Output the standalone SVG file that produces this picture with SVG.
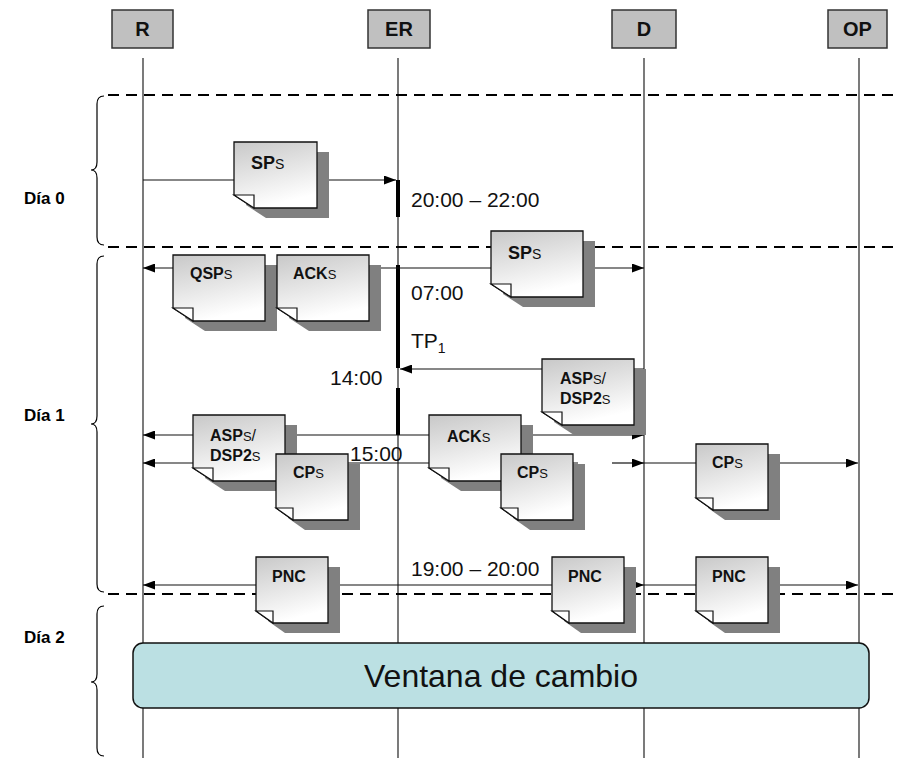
<svg xmlns="http://www.w3.org/2000/svg" xmlns:xlink="http://www.w3.org/1999/xlink" width="899" height="758" viewBox="0 0 899 758">
<style>
  .hdr { fill:#c0c0c0; stroke:#333; stroke-width:1.5; }
  .hdrt { font-family:"Liberation Sans",Arial,sans-serif; font-weight:bold; font-size:20px; text-anchor:middle; fill:#111; }
  .life { stroke:#222; stroke-width:1.2; fill:none; }
  .dash { stroke:#000; stroke-width:2.2; stroke-dasharray:11 7; fill:none; }
  .bar { stroke:#000; stroke-width:4; fill:none; }
  .msg { stroke:#111; stroke-width:1.2; fill:none; }
  .brace { stroke:#000; stroke-width:1.2; fill:none; }
  .day { font-family:"Liberation Sans",Arial,sans-serif; font-weight:bold; font-size:17px; fill:#000; }
  .time { font-family:"Liberation Sans",Arial,sans-serif; font-size:21px; fill:#111; }
  .nt { font-family:"Liberation Sans",Arial,sans-serif; font-weight:bold; font-size:16px; fill:#111; }
  .sm { font-weight:normal; font-size:13px; }
  .big { font-size:18px; }
  .bigsm { font-weight:normal; font-size:14px; }
  .shadow { fill:#808080; }
  .body { fill:url(#g); stroke:#111; stroke-width:1.3; }
  .fold { fill:#fff; stroke:#111; stroke-width:1.2; }
</style>
<defs>
  <linearGradient id="g" x1="0" y1="0" x2="0.3" y2="1">
    <stop offset="0" stop-color="#c8c8c8"/>
    <stop offset="1" stop-color="#ffffff"/>
  </linearGradient>
  <marker id="ah" viewBox="0 0 12 9" refX="12" refY="4.5" markerWidth="12" markerHeight="9" markerUnits="userSpaceOnUse" orient="auto-start-reverse">
    <path d="M0,0 L12,4.5 L0,9 Z" fill="#000"/>
  </marker>
  <g id="n92">
    <path class="shadow" d="M12,10 H104 V76 H32 L12,63 Z"/>
    <path class="body" d="M0,0 H92 V66 H20 L0,53 Z"/>
    <path class="fold" d="M0,53 H20 V66 Z"/>
  </g>
  <g id="n83">
    <path class="shadow" d="M12,10 H95 V76 H32 L12,63 Z"/>
    <path class="body" d="M0,0 H83 V66 H20 L0,53 Z"/>
    <path class="fold" d="M0,53 H20 V66 Z"/>
  </g>
  <g id="n72">
    <path class="shadow" d="M12,10 H84 V76 H29 L12,64 Z"/>
    <path class="body" d="M0,0 H72 V66 H17 L0,54 Z"/>
    <path class="fold" d="M0,54 H17 V66 Z"/>
  </g>
</defs>
<rect width="899" height="758" fill="#fff"/>

<g id="lifelines">
  <path class="life" d="M143,58 V758"/>
  <path class="life" d="M398,58 V758"/>
  <path class="life" d="M644,58 V758"/>
  <path class="life" d="M859,58 V758"/>
</g>

<g id="day-separators">
  <path class="dash" d="M108,95 H899"/>
  <path class="dash" d="M108,247 H899"/>
  <path class="dash" d="M108,594 H899"/>
</g>

<g id="braces">
  <path class="brace" d="M104,96 Q97,96 97,104 L97,162 Q97,170 91,170 Q97,170 97,178 L97,237 Q97,245 104,245"/>
  <path class="brace" d="M104,256 Q97,256 97,264 L97,416 Q97,424 91,424 Q97,424 97,432 L97,584 Q97,592 104,592"/>
  <path class="brace" d="M104,606 Q97,606 97,614 L97,674 Q97,682 91,682 Q97,682 97,690 L97,748 Q97,756 104,756"/>
</g>

<g id="day-labels">
  <text class="day" x="24" y="204">Día 0</text>
  <text class="day" x="24" y="421">Día 1</text>
  <text class="day" x="24" y="643">Día 2</text>
</g>

<g id="node-R"><rect class="hdr" x="112" y="10" width="61" height="38"/><text class="hdrt" x="142.5" y="36">R</text></g>
<g id="node-ER"><rect class="hdr" x="368" y="10" width="62" height="38"/><text class="hdrt" x="399" y="36">ER</text></g>
<g id="node-D"><rect class="hdr" x="612" y="10" width="64" height="38"/><text class="hdrt" x="644" y="36">D</text></g>
<g id="node-OP"><rect class="hdr" x="828" y="10" width="59" height="38"/><text class="hdrt" x="857.5" y="36">OP</text></g>

<g id="activation-bars">
  <path class="bar" d="M398,180 V217"/>
  <path class="bar" d="M398,265 V368"/>
  <path class="bar" d="M398,388 V435"/>
</g>

<g id="connectors">
  <path class="msg" d="M143,180 H396" marker-end="url(#ah)"/>
  <path class="msg" d="M143,268 H644" marker-start="url(#ah)" marker-end="url(#ah)"/>
  <path class="msg" d="M644,369 H400" marker-end="url(#ah)"/>
  <path class="msg" d="M143,435 H644" marker-start="url(#ah)" marker-end="url(#ah)"/>
  <path class="msg" d="M143,463 H578" marker-start="url(#ah)"/>
  <path class="msg" d="M612,463 H644" marker-end="url(#ah)"/>
  <path class="msg" d="M644,463 H858" marker-end="url(#ah)"/>
  <path class="msg" d="M143,585 H644" marker-start="url(#ah)" marker-end="url(#ah)"/>
  <path class="msg" d="M644,585 H858" marker-end="url(#ah)"/>
</g>

<g id="times">
  <text class="time" x="411" y="207">20:00 – 22:00</text>
  <text class="time" x="411" y="300">07:00</text>
  <text class="time" x="411" y="348">TP<tspan font-size="14" dy="5">1</tspan></text>
  <text class="time" x="330" y="385">14:00</text>
  <text class="time" x="411" y="576">19:00 – 20:00</text>
</g>

<g id="note-SPs-0"><use xlink:href="#n83" x="234" y="142"/><text class="nt big" x="251" y="169">SP<tspan class="bigsm">S</tspan></text></g>
<g id="note-QSPs"><use xlink:href="#n92" x="173" y="255"/><text class="nt" x="190" y="279">QSP<tspan class="sm">S</tspan></text></g>
<g id="note-ACKs-1"><use xlink:href="#n92" x="277" y="255"/><text class="nt" x="293" y="279">ACK<tspan class="sm">S</tspan></text></g>
<g id="note-SPs-1"><use xlink:href="#n92" x="491" y="231"/><text class="nt big" x="508" y="259">SP<tspan class="bigsm">S</tspan></text></g>
<g id="note-ASPs-D"><use xlink:href="#n92" x="542" y="359"/><text class="nt" x="560" y="384">ASP<tspan class="sm">S</tspan><tspan style="font-weight:normal">/</tspan></text><text class="nt" x="560" y="404">DSP2<tspan class="sm">S</tspan></text></g>
<g id="note-ASPs-R"><use xlink:href="#n92" x="193" y="415"/><text class="nt" x="210" y="441">ASP<tspan class="sm">S</tspan><tspan style="font-weight:normal">/</tspan></text><text class="nt" x="210" y="461">DSP2<tspan class="sm">S</tspan></text></g>
<g id="note-ACKs-2"><use xlink:href="#n92" x="429" y="415"/><text class="nt" x="447" y="442">ACK<tspan class="sm">S</tspan></text></g>
<g id="note-CPs-R"><use xlink:href="#n72" x="276" y="454"/><text class="nt" x="293" y="478">CP<tspan class="sm">S</tspan></text></g>
<text class="time" x="350" y="461">15:00</text>
<g id="note-CPs-ER"><use xlink:href="#n72" x="501" y="454"/><text class="nt" x="517" y="478">CP<tspan class="sm">S</tspan></text></g>
<g id="note-CPs-OP"><use xlink:href="#n72" x="696" y="444"/><text class="nt" x="712" y="468">CP<tspan class="sm">S</tspan></text></g>
<g id="note-PNC-R"><use xlink:href="#n72" x="256" y="557"/><text class="nt" x="272" y="582">PNC</text></g>
<g id="note-PNC-D"><use xlink:href="#n72" x="552" y="557"/><text class="nt" x="568" y="582">PNC</text></g>
<g id="note-PNC-OP"><use xlink:href="#n72" x="696" y="557"/><text class="nt" x="712" y="582">PNC</text></g>

<g id="ventana">
  <rect x="133" y="643" width="736" height="65" rx="10" ry="10" fill="#bbe0e3" stroke="#111" stroke-width="1.5"/>
  <text x="501" y="687" font-family="'Liberation Sans',Arial,sans-serif" font-size="32" text-anchor="middle" fill="#111">Ventana de cambio</text>
</g>
</svg>
